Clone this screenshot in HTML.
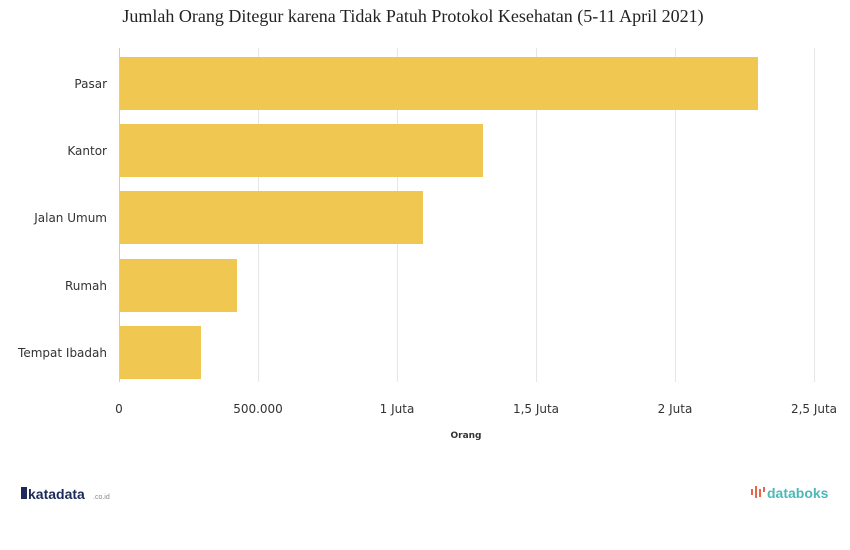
<!DOCTYPE html>
<html><head><meta charset="utf-8"><style>
body{margin:0;background:#fff;width:850px;height:545px;overflow:hidden}
</style></head><body>
<svg width="850" height="545" xmlns="http://www.w3.org/2000/svg" font-family="DejaVu Sans, sans-serif">
<text x="413" y="22" text-anchor="middle" font-family="Liberation Serif, serif" font-size="18" fill="#222">Jumlah Orang Ditegur karena Tidak Patuh Protokol Kesehatan (5-11 April 2021)</text>
<g stroke="#e6e6e6" stroke-width="1">
<line x1="258.5" y1="48" x2="258.5" y2="382"/>
<line x1="397.5" y1="48" x2="397.5" y2="382"/>
<line x1="536.5" y1="48" x2="536.5" y2="382"/>
<line x1="675.5" y1="48" x2="675.5" y2="382"/>
<line x1="814.5" y1="48" x2="814.5" y2="382"/>
</g>
<g fill="#f0c751">
<rect x="119" y="57" width="639" height="53"/>
<rect x="119" y="124" width="364" height="53"/>
<rect x="119" y="191" width="304" height="53"/>
<rect x="119" y="259" width="118" height="53"/>
<rect x="119" y="326" width="82" height="53"/>
</g>
<line x1="119.5" y1="48" x2="119.5" y2="382" stroke="#ccc"/>
<g font-size="12" fill="#333" text-anchor="end">
<text x="107" y="88">Pasar</text>
<text x="107" y="155">Kantor</text>
<text x="107" y="222">Jalan Umum</text>
<text x="107" y="290">Rumah</text>
<text x="107" y="357">Tempat Ibadah</text>
</g>
<g font-size="12" fill="#333" text-anchor="middle">
<text x="119" y="413">0</text>
<text x="258" y="413">500.000</text>
<text x="397" y="413">1 Juta</text>
<text x="536" y="413">1,5 Juta</text>
<text x="675" y="413">2 Juta</text>
<text x="814" y="413">2,5 Juta</text>
</g>
<text x="466" y="438" text-anchor="middle" font-size="9" font-weight="bold" fill="#333">Orang</text>
<rect x="21" y="487" width="6" height="12" fill="#1b2a5a"/>
<text x="28" y="499" font-family="Liberation Sans, sans-serif" font-size="14" font-weight="bold" fill="#1b2a5a">katadata</text>
<text x="93" y="499" font-family="Liberation Sans, sans-serif" font-size="7" fill="#888">.co.id</text>
<g fill="#e8654a"><rect x="751" y="489" width="2" height="6"/><rect x="755" y="486" width="2" height="12"/><rect x="759" y="489" width="2" height="8"/><rect x="763" y="487" width="2" height="5"/></g>
<text x="767" y="498" font-family="Liberation Sans, sans-serif" font-size="14" font-weight="bold" fill="#4db8b5">databoks</text>
</svg>
</body></html>
